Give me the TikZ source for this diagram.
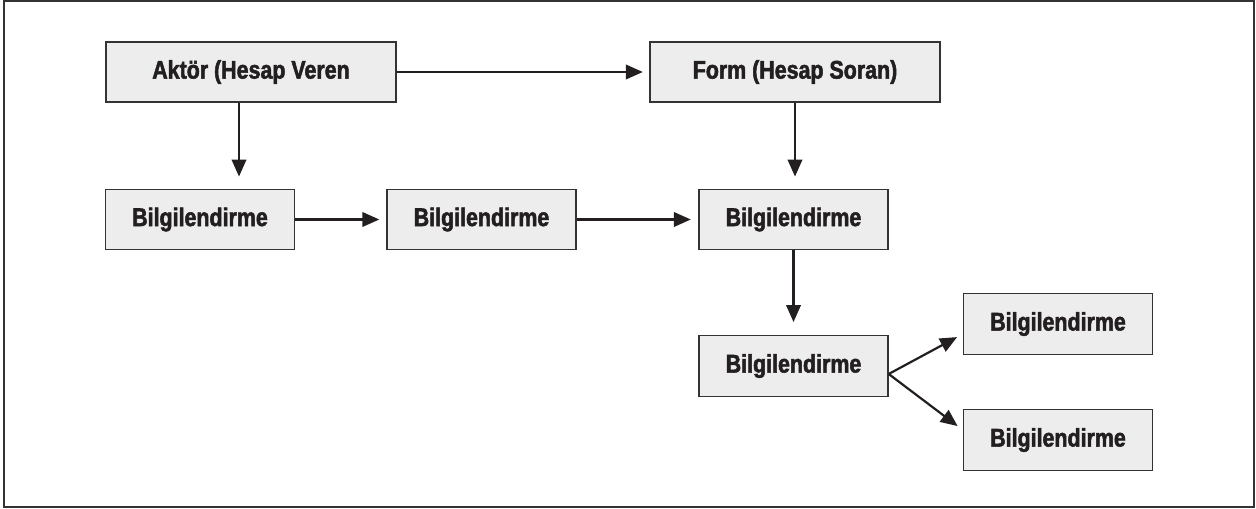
\documentclass[tikz,border=0pt]{standalone}
\usepackage{fontspec}
\setmainfont[FakeStretch=0.84,FakeBold=2]{Liberation Sans}
\usetikzlibrary{arrows.meta}
\definecolor{boxfill}{HTML}{EDEDED}
\definecolor{boxline}{HTML}{333333}
\definecolor{inkdark}{HTML}{231F20}
\tikzset{
  kutu/.style={draw=boxline,fill=boxfill,line width=0.8pt,inner sep=0pt,
    minimum width=3.78cm,minimum height=1.21cm,text=inkdark,
    font=\fontsize{14.5}{16}\selectfont\bfseries},
  genis/.style={kutu,minimum width=5.8cm,minimum height=1.2cm},
  ok/.style={-{Triangle[length=0.34cm,width=0.29cm]},line width=1.25pt,draw=inkdark},
}
\begin{document}
\begin{tikzpicture}[x=0.02cm,y=-0.02cm]
\useasboundingbox (0,0) rectangle (1256,509);
% ---- outer frame ----
\draw[boxline,line width=0.9pt] (4,1) rectangle (1254,507);
% ---- top row ----
\node[genis] (aktor) at (251,72) {Aktör (Hesap Veren};
\node[genis] (form) at (795,72) {Form (Hesap Soran)};
% ---- middle row ----
\node[kutu] (bilgi1) at (200,219.5) {Bilgilendirme};
\node[kutu] (bilgi2) at (481.5,219.5) {Bilgilendirme};
\node[kutu] (bilgi3) at (793.5,219.5) {Bilgilendirme};
% ---- lower branch ----
\node[kutu] (bilgi4) at (793.5,366) {Bilgilendirme};
\node[kutu] (bilgi5) at (1058,324) {Bilgilendirme};
\node[kutu] (bilgi6) at (1058,440) {Bilgilendirme};
\coordinate (catal) at ([yshift=-0.16cm]bilgi4.east);
% ---- arrows ----
\draw[ok,shorten >=0.13cm] (aktor.east) -- (form.west);
\draw[ok,shorten >=0.24cm] ([xshift=-0.24cm]aktor.south) -- ([xshift=-0.24cm]aktor.south |- bilgi1.north);
\draw[ok,shorten >=0.24cm] (form.south) -- (form.south |- bilgi3.north);
\draw[ok,shorten >=0.14cm] (bilgi1.east) -- (bilgi2.west);
\draw[ok,shorten >=0.15cm] (bilgi2.east) -- (bilgi3.west);
\draw[ok,shorten >=0.26cm] (bilgi3.south) -- (bilgi4.north);
\draw[ok,shorten >=0.13cm] (catal) -- (bilgi5.186);
\draw[ok,shorten >=0.13cm] (catal) -- (bilgi6.174);
\end{tikzpicture}
\end{document}
